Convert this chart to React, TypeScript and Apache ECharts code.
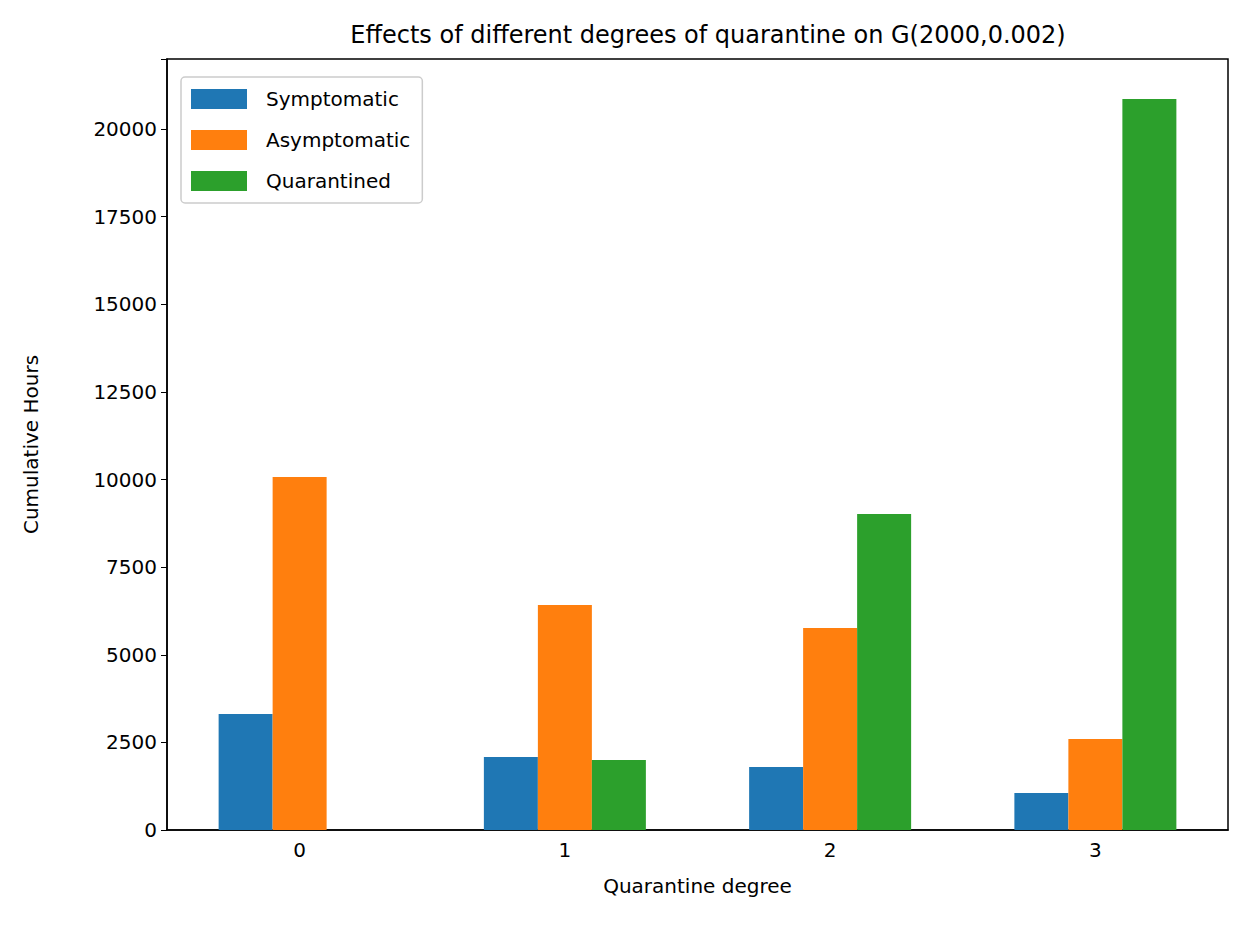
import { useEffect, useRef } from 'react'
import * as echarts from 'echarts'

const categories = ['0', '1', '2', '3']
const symptomatic = [3310, 2083, 1798, 1056]
const asymptomatic = [10074, 6421, 5765, 2597]
const quarantined = [0, 1998, 9018, 20862]
const yTicks = [0, 2500, 5000, 7500, 10000, 12500, 15000, 17500, 20000]

const font = 'DejaVu Sans'

export default function App() {
  const chartRef = useRef<HTMLDivElement>(null)

  useEffect(() => {
    document.body.style.margin = '0'
    if (!chartRef.current) return
    const chart = echarts.init(chartRef.current, null, { renderer: 'svg' })

    const bar = (name: string, data: number[], color: string) => ({
      name,
      type: 'bar',
      data,
      barWidth: 54,
      barGap: '0%',
      itemStyle: { color },
    })

    chart.setOption({
      animation: false,
      backgroundColor: '#fff',
      textStyle: { fontFamily: font },
      title: {
        text: 'Effects of different degrees of quarantine on G(2000,0.002)',
        left: 703,
        top: 18,
        textAlign: 'center',
        textStyle: { fontSize: 24, fontWeight: 'normal', color: '#000', fontFamily: font },
      },
      legend: {
        left: 181,
        top: 77,
        orient: 'vertical',
        itemWidth: 56,
        itemHeight: 20,
        itemGap: 21,
        padding: [12, 12, 12, 10],
        borderColor: '#ccc',
        borderWidth: 1.5,
        borderRadius: 4,
        icon: 'rect',
        textStyle: { fontSize: 20, color: '#000', padding: [0, 0, 0, 14] },
      },
      grid: {
        left: 167,
        top: 59,
        width: 1061,
        height: 771,
        show: true,
        borderColor: '#000',
        borderWidth: 1.5,
        backgroundColor: 'transparent',
      },
      xAxis: {
        type: 'category',
        data: categories,
        name: 'Quarantine degree',
        nameLocation: 'middle',
        nameGap: 46,
        nameTextStyle: { fontSize: 20, color: '#000' },
        axisLine: { lineStyle: { color: '#000', width: 1.5 } },
        axisTick: { alignWithLabel: true, length: 6, lineStyle: { color: '#000' } },
        axisLabel: { fontSize: 20, color: '#000', margin: 10 },
      },
      yAxis: {
        type: 'value',
        min: yTicks[0],
        max: 22000,
        interval: 2500,
        name: 'Cumulative Hours',
        nameLocation: 'middle',
        nameGap: 126,
        nameTextStyle: { fontSize: 20, color: '#000' },
        axisLine: { show: true, lineStyle: { color: '#000', width: 1.5 } },
        axisTick: { show: true, length: 6, lineStyle: { color: '#000' } },
        axisLabel: {
          fontSize: 20,
          color: '#000',
          margin: 10,
          formatter: (v: number) => (yTicks.includes(v) ? String(v) : ''),
        },
        splitLine: { show: false },
      },
      series: [
        bar('Symptomatic', symptomatic, '#1f77b4'),
        bar('Asymptomatic', asymptomatic, '#ff7f0e'),
        bar('Quarantined', quarantined, '#2ca02c'),
      ],
    })

    return () => chart.dispose()
  }, [])

  return <div ref={chartRef} style={{ width: 1260, height: 938 }} />
}
